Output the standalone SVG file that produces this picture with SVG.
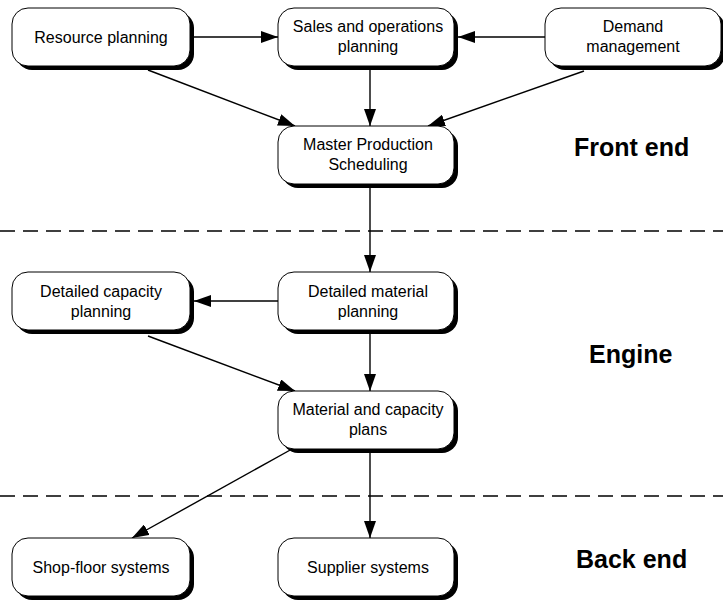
<svg xmlns="http://www.w3.org/2000/svg" width="723" height="600" viewBox="0 0 723 600">
  <style>
    .shadow { fill: #000; }
    .box { fill: #fff; stroke: #000; stroke-width: 1; }
    .lbl { font-family: "Liberation Sans", Arial, sans-serif; font-size: 16px; fill: #000; text-anchor: middle; }
    .sec { font-family: "Liberation Sans", Arial, sans-serif; font-size: 25px; font-weight: bold; fill: #000; }
    .edge { stroke: #000; stroke-width: 1.4; fill: none; marker-end: url(#arrow); }
    .divider { stroke: #000; stroke-width: 1.5; stroke-dasharray: 15 8; }
  </style>
  <defs>
    <marker id="arrow" viewBox="0 0 17 12" refX="17" refY="6" markerWidth="17" markerHeight="12" markerUnits="userSpaceOnUse" orient="auto">
      <path d="M0,0 L17,6 L0,12 Z" fill="#000"/>
    </marker>
  </defs>
  <rect width="723" height="600" fill="#fff"/>

  <!-- section dividers -->
  <line class="divider" x1="0" y1="231" x2="723" y2="231"/>
  <line class="divider" x1="0" y1="496" x2="723" y2="496"/>

  <!-- section titles -->
  <text class="sec" x="574" y="156">Front end</text>
  <text class="sec" x="589" y="363">Engine</text>
  <text class="sec" x="576" y="568">Back end</text>

  <g id="connectors">
    <line class="edge" x1="190" y1="37" x2="278" y2="37"/>
    <line class="edge" x1="545" y1="37" x2="458" y2="37"/>
    <line class="edge" x1="370" y1="66" x2="370" y2="126"/>
    <line class="edge" x1="148" y1="70" x2="295" y2="126"/>
    <line class="edge" x1="584" y1="71" x2="428" y2="126"/>
    <line class="edge" x1="370" y1="184" x2="370" y2="272"/>
    <line class="edge" x1="278" y1="301" x2="194" y2="301"/>
    <line class="edge" x1="148" y1="336" x2="295" y2="391"/>
    <line class="edge" x1="370" y1="330" x2="370" y2="391"/>
    <line class="edge" x1="292" y1="449" x2="132" y2="538"/>
    <line class="edge" x1="370" y1="449" x2="370" y2="538"/>
  </g>

  <g id="resource-planning">
    <rect class="shadow" x="16" y="12" width="178" height="58" rx="16"/>
    <rect class="box" x="12" y="8" width="178" height="58" rx="16"/>
    <text class="lbl" x="101" y="43">Resource planning</text>
  </g>

  <g id="sales-operations-planning">
    <rect class="shadow" x="282" y="12" width="176" height="58" rx="16"/>
    <rect class="box" x="278" y="8" width="176" height="58" rx="16"/>
    <text class="lbl" x="368" y="32">Sales and operations</text>
    <text class="lbl" x="368" y="52">planning</text>
  </g>

  <g id="demand-management">
    <rect class="shadow" x="549" y="12" width="176" height="58" rx="16"/>
    <rect class="box" x="545" y="8" width="176" height="58" rx="16"/>
    <text class="lbl" x="633" y="32">Demand</text>
    <text class="lbl" x="633" y="52">management</text>
  </g>

  <g id="master-production-scheduling">
    <rect class="shadow" x="282" y="130" width="176" height="58" rx="16"/>
    <rect class="box" x="278" y="126" width="176" height="58" rx="16"/>
    <text class="lbl" x="368" y="150">Master Production</text>
    <text class="lbl" x="368" y="170">Scheduling</text>
  </g>

  <g id="detailed-capacity-planning">
    <rect class="shadow" x="16" y="276" width="178" height="58" rx="16"/>
    <rect class="box" x="12" y="272" width="178" height="58" rx="16"/>
    <text class="lbl" x="101" y="297">Detailed capacity</text>
    <text class="lbl" x="101" y="317">planning</text>
  </g>

  <g id="detailed-material-planning">
    <rect class="shadow" x="282" y="276" width="176" height="58" rx="16"/>
    <rect class="box" x="278" y="272" width="176" height="58" rx="16"/>
    <text class="lbl" x="368" y="297">Detailed material</text>
    <text class="lbl" x="368" y="317">planning</text>
  </g>

  <g id="material-capacity-plans">
    <rect class="shadow" x="282" y="395" width="176" height="58" rx="16"/>
    <rect class="box" x="278" y="391" width="176" height="58" rx="16"/>
    <text class="lbl" x="368" y="415">Material and capacity</text>
    <text class="lbl" x="368" y="435">plans</text>
  </g>

  <g id="shop-floor-systems">
    <rect class="shadow" x="16" y="542" width="178" height="58" rx="16"/>
    <rect class="box" x="12" y="538" width="178" height="58" rx="16"/>
    <text class="lbl" x="101" y="573">Shop-floor systems</text>
  </g>

  <g id="supplier-systems">
    <rect class="shadow" x="282" y="542" width="176" height="58" rx="16"/>
    <rect class="box" x="278" y="538" width="176" height="58" rx="16"/>
    <text class="lbl" x="368" y="573">Supplier systems</text>
  </g>
</svg>
